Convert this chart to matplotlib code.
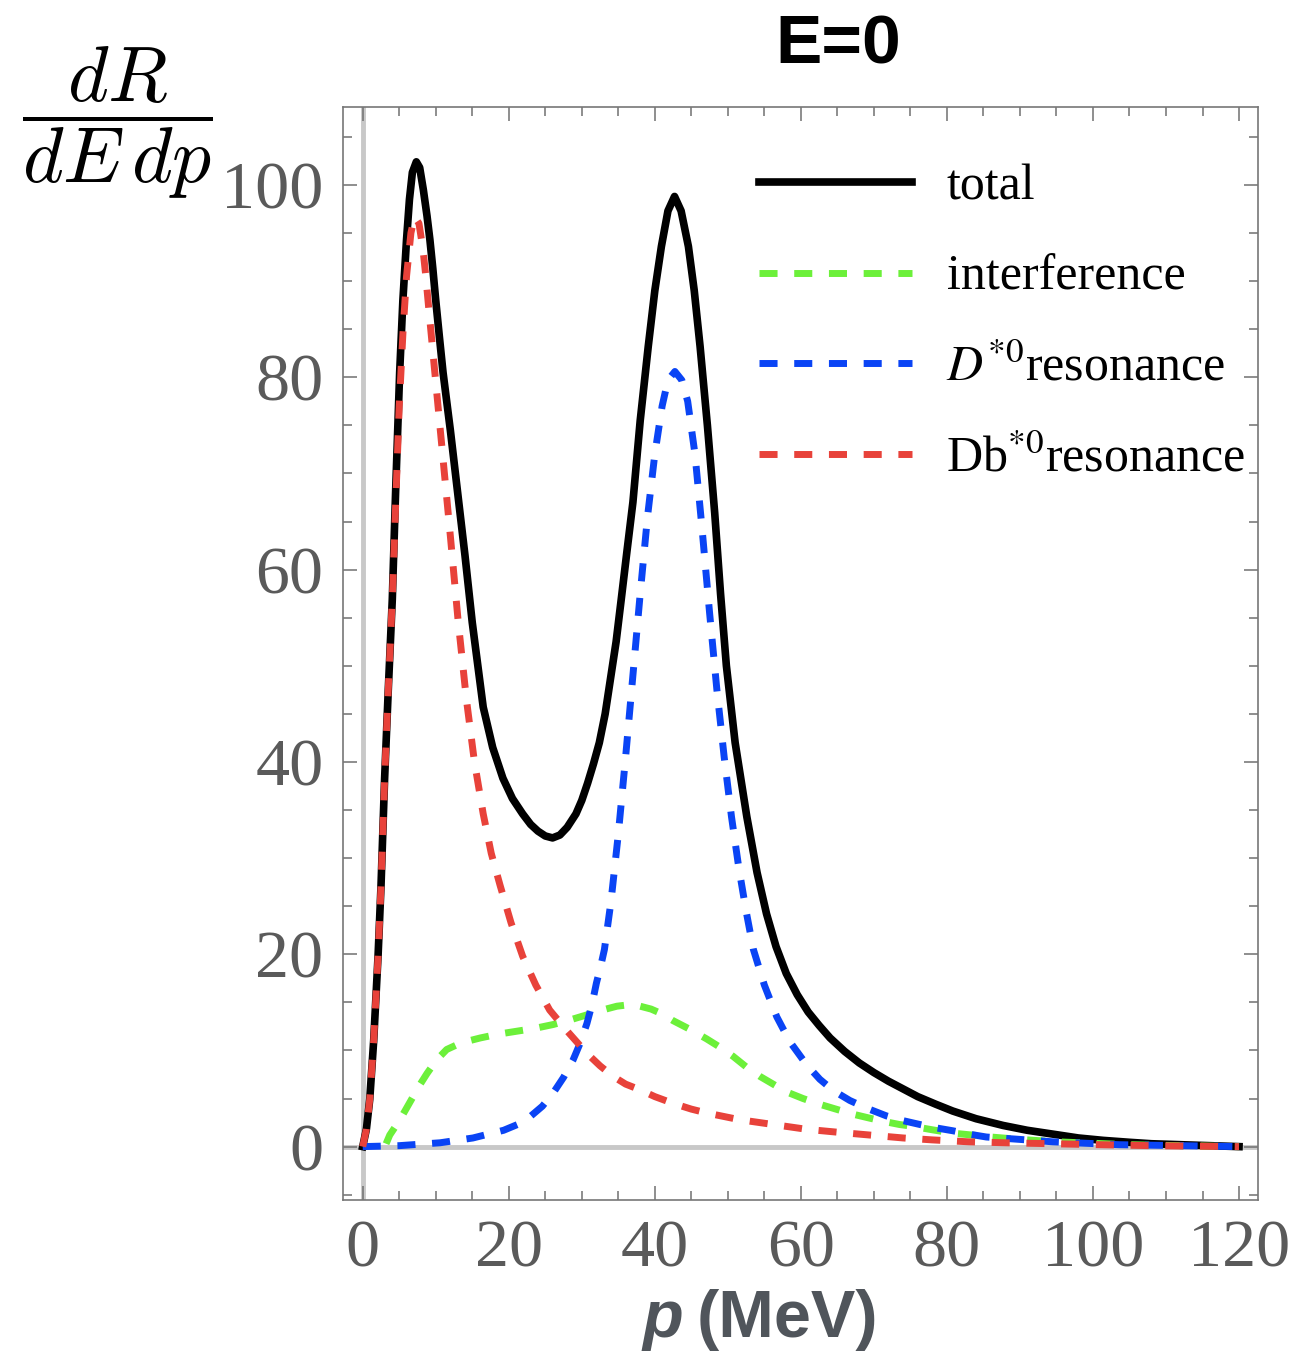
import matplotlib
matplotlib.use("Agg")
import matplotlib.pyplot as plt
from matplotlib.ticker import MultipleLocator
from matplotlib.font_manager import FontProperties

# values (p in MeV)
total_p = [0, 0.5, 0.96, 1.5, 2.1, 2.5, 3.0, 3.5, 4.05, 4.5, 5.06, 5.5, 6.0, 6.4, 6.8, 7.34, 7.8, 8.3, 8.8,
           9.2, 9.6, 10.0, 10.5, 11.0, 12.0, 13.0, 14.0, 15.0, 16.5, 17.8, 19.2, 20.5, 21.9, 23.0, 24.0,
           25.0, 26.0, 27.0, 28.0, 29.2, 30.0, 30.8, 31.6, 32.4, 33.2, 33.9, 34.7, 35.4, 36.2, 37.0, 38.0,
           39.1, 40.0, 40.9, 41.8, 42.7, 43.6, 44.6, 45.4, 46.2, 47.2, 48.2, 49.0, 49.8, 51.0, 52.6, 54.0,
           55.3, 56.6, 58.0, 59.5, 61.0, 62.5, 64.0, 66.0, 68.0, 70.0, 72.0, 74.0, 76.0, 78.5, 80.8, 84.0,
           87.7, 91.0, 94.5, 98.0, 101.4, 105.0, 108.0, 112.0, 116.0, 120.0]
total_y = [0, 1.8, 4.9, 11.0, 19.8, 27.0, 38.3, 47.5, 56.9, 68.0, 80.5, 88.0, 94.3, 98.5, 101.3, 102.4, 101.8,
           99.5, 96.8, 94.3, 91.3, 88.0, 84.2, 80.5, 74.5, 68.0, 61.5, 54.5, 45.7, 41.5, 38.3, 36.2, 34.6,
           33.5, 32.8, 32.3, 32.1, 32.4, 33.2, 34.6, 36.0, 37.8, 39.8, 42.0, 45.0, 48.5, 52.5, 56.9, 62.0,
           67.0, 75.5, 83.2, 89.0, 93.6, 97.3, 98.8, 97.3, 93.6, 89.0, 83.2, 75.0, 65.9, 57.5, 50.0, 42.0,
           34.3, 28.5, 24.2, 20.8, 18.0, 15.8, 14.0, 12.6, 11.3, 9.9, 8.7, 7.7, 6.8, 6.0, 5.2, 4.4, 3.7,
           2.9, 2.2, 1.7, 1.3, 0.9, 0.65, 0.45, 0.3, 0.2, 0.1, 0]

interf_p = [3.2, 3.7, 4.4, 5.1, 6.0, 6.9, 7.8, 8.8, 10.1, 11.5, 13.5, 16.1, 18.6, 21.1, 23.6, 26.1,
            28.5, 30.7, 32.8, 34.8, 37.0, 39.5, 41.0, 42.5, 44.8, 47.1, 49.0, 50.7, 52.5, 54.4, 56.2,
            58.0, 60.3, 62.6, 64.8, 67.0, 69.2, 71.5, 73.5, 75.4, 78.0, 80.8, 83.5, 86.0, 90.0, 95.0,
            100.0, 105.0, 112.0, 120.0]
interf_y = [0.3, 1.2, 2.0, 2.8, 4.0, 5.2, 6.4, 7.6, 9.0, 10.1, 10.8, 11.3, 11.7, 12.0, 12.3, 12.7,
            13.2, 13.7, 14.2, 14.6, 14.8, 14.3, 13.8, 13.1, 12.2, 11.2, 10.3, 9.4, 8.3, 7.3, 6.5,
            5.7, 5.0, 4.4, 3.9, 3.4, 3.0, 2.6, 2.3, 2.1, 1.75, 1.4, 1.2, 1.0, 0.75, 0.5,
            0.35, 0.2, 0.1, 0]

dstar_p = [0, 5, 10.6, 15.1, 19.3, 21.2, 22.9, 24.6, 26.1, 27.5, 28.8, 29.8, 30.7, 31.4, 32.0, 32.6,
           33.1, 34.0, 35.0, 36.0, 37.0, 38.0, 39.0, 40.0, 41.0, 41.8, 42.75, 43.7, 44.5, 45.5, 46.5,
           47.5, 48.5, 49.5, 50.5, 51.5, 52.5, 53.5, 55.0, 56.7, 58.5, 60.8, 62.6, 64.5, 66.7, 69.0,
           71.7, 74.0, 76.3, 78.5, 80.8, 83.0, 85.4, 90.0, 94.5, 99.0, 103.6, 108.0, 112.0, 116.0, 120.0]
dstar_y = [0, 0.1, 0.4, 0.9, 1.7, 2.3, 3.1, 4.2, 5.6, 7.2, 9.0, 10.8, 12.8, 14.8, 17.0, 18.8,
           20.5, 25.5, 32.5, 40.5, 49.0, 57.5, 65.5, 72.0, 77.0, 79.7, 80.6, 79.7, 77.5, 72.0, 64.0,
           55.5, 47.5, 40.5, 34.3, 29.0, 24.5, 20.5, 16.8, 13.5, 10.9, 8.5, 7.0, 5.8, 4.8, 4.0,
           3.2, 2.7, 2.3, 1.95, 1.65, 1.3, 1.0, 0.75, 0.5, 0.35, 0.2, 0.15, 0.1, 0.05, 0]

dbstar_p = [0, 0.5, 0.96, 1.5, 2.1, 2.5, 3.0, 3.5, 4.05, 4.5, 5.0, 5.5, 6.0, 6.6, 7.1, 7.7, 8.25, 8.6,
            9.0, 10.0, 11.0, 12.0, 13.05, 14.2, 15.3, 16.5, 17.6, 18.8, 20.3, 21.9, 23.7, 25.6, 27.9,
            29.3, 30.7, 32.5, 34.3, 36.0, 38.0, 40.0, 42.5, 45.0, 47.1, 51.6, 56.2, 60.8, 65.0, 69.5,
            74.0, 78.0, 83.0, 88.0, 94.5, 101.0, 108.0, 114.0, 120.0]
dbstar_y = [0, 1.8, 4.9, 11.0, 19.8, 27.0, 38.3, 47.5, 56.9, 66.5, 77.0, 84.5, 90.5, 95.0, 96.7, 96.0,
            93.3, 90.8, 87.5, 79.5, 71.5, 63.5, 54.8, 46.5, 40.0, 34.6, 30.5, 27.2, 23.3, 19.8, 16.8,
            14.2, 12.1, 10.9, 9.7, 8.4, 7.3, 6.5, 5.9, 5.2, 4.5, 3.9, 3.5, 2.8, 2.3, 1.8, 1.5, 1.2,
            0.9, 0.7, 0.5, 0.4, 0.3, 0.2, 0.1, 0.05, 0]

labels = ["total", "interference", r"$D^{*0}$resonance", r"Db$^{*0}$resonance"]

fig = plt.figure(figsize=(12.96, 13.53), dpi=100)
ax = fig.add_axes([343 / 1296, 1 - 1200 / 1353, 915 / 1296, 1093 / 1353])

ax.axvline(0, color="#c8c8c8", lw=3.5, zorder=0)
ax.axhline(0, color="#c8c8c8", lw=3.5, zorder=0)

dash = (2.6, 2.4)
ax.plot(total_p, total_y, color="black", lw=5.5, label=labels[0], zorder=2, solid_joinstyle="round")
ax.plot(interf_p, interf_y, color="#6cf03a", lw=5, dashes=dash, label=labels[1], zorder=3)
ax.plot(dstar_p, dstar_y, color="#0a44f5", lw=5, dashes=dash, label=labels[2], zorder=4)
ax.plot(dbstar_p, dbstar_y, color="#e8423a", lw=5, dashes=dash, label=labels[3], zorder=5)

ax.set_xlim(-2.7, 122.6)
ax.set_ylim(-5.55, 108.1)
ax.set_xticks(range(0, 121, 20))
ax.set_yticks(range(0, 101, 20))
ax.xaxis.set_minor_locator(MultipleLocator(5))
ax.yaxis.set_minor_locator(MultipleLocator(5))
ax.tick_params(which="both", direction="in", top=True, right=True, color="#707070", width=1.1)
ax.tick_params(which="major", length=10)
ax.tick_params(which="minor", length=6.5)
ax.tick_params(labelcolor="#5a5a5a", labelsize=49, pad=14)
for lab in ax.get_xticklabels() + ax.get_yticklabels():
    lab.set_fontfamily("Liberation Serif")
for sp in ax.spines.values():
    sp.set_color("#777777")
    sp.set_linewidth(1.2)

leg_font = FontProperties(family="Liberation Serif", size=36, math_fontfamily="stix")
ax.legend(loc="upper left", bbox_to_anchor=(734 / 1296, 1 - 139 / 1353),
          bbox_transform=fig.transFigure, frameon=False, prop=leg_font,
          handlelength=3.05, handletextpad=0.7, labelspacing=0.88, borderpad=0)

fig.text(838 / 1296, 1 - 45 / 1353, "E=0", ha="center", va="center",
         fontsize=50, fontweight="bold", family="Liberation Sans")
fig.text(117 / 1296, 1 - 122 / 1353, r"$\dfrac{dR}{dE\,dp}$", ha="center", va="center",
         fontsize=56, math_fontfamily="cm")
fig.text(683 / 1296, 1 - 1320 / 1353, "p", ha="right", va="center", fontsize=48,
         fontweight="bold", fontstyle="italic", family="Liberation Sans", color="#50555b")
fig.text(697 / 1296, 1 - 1320 / 1353, "(MeV)", ha="left", va="center", fontsize=48,
         fontweight="bold", family="Liberation Sans", color="#50555b")

fig.savefig("out.png", dpi=100)
